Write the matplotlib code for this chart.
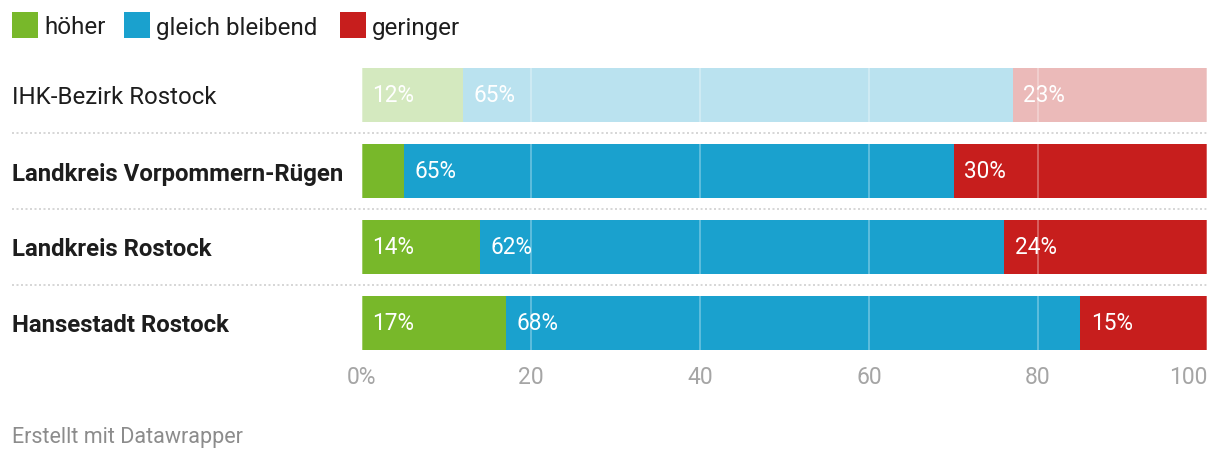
import matplotlib
matplotlib.use("Agg")
import matplotlib.pyplot as plt
from matplotlib.patches import Rectangle
from matplotlib.transforms import blended_transform_factory, ScaledTranslation
import numpy as np

plt.rcParams['font.family'] = ['Roboto', 'DejaVu Sans']

categories = ["IHK-Bezirk Rostock", "Landkreis Vorpommern-Rügen", "Landkreis Rostock", "Hansestadt Rostock"]
series_names = ["höher", "gleich bleibend", "geringer"]
hoeher = [12, 5, 14, 17]
gleich = [65, 65, 62, 68]
geringer = [23, 30, 24, 15]
xticks = [0, 20, 40, 60, 80, 100]
xtick_labels = ["0%", "20", "40", "60", "80", "100"]
footer = "Erstellt mit Datawrapper"

colors = ["#78b82a", "#1aa1ce", "#c71e1d"]
faded = ["#d4e9bf", "#bae2ef", "#ebbab9"]

W, H = 1220, 464
fig = plt.figure(figsize=(W/100, H/100), dpi=100)
ax = fig.add_axes([362/W, 1-362/H, 845/W, 304/H])

series = [hoeher, gleich, geringer]
y = np.arange(len(categories))
left = np.zeros(len(categories))
for si, vals in enumerate(series):
    vals = np.array(vals, dtype=float)
    for i in range(len(categories)):
        c = faded[si] if i == 0 else colors[si]
        ax.barh(y[i], vals[i], left=left[i], height=54/76, color=c, edgecolor='none', zorder=2)
        if vals[i] >= 8:
            ax.annotate(f"{int(vals[i])}%", (left[i], y[i]), xytext=(7.5, 0), textcoords='offset points',
                        ha='left', va='center', color='white', fontsize=16.3, zorder=4)
    left += vals

ax.set_xlim(0, 100)
ax.set_ylim(len(categories)-0.5, -0.5)
for g in xticks:
    ax.axvline(g, color='white', alpha=0.35, lw=1.2, zorder=3)

for s in ax.spines.values():
    s.set_visible(False)
ax.set_yticks([])
ax.set_xticks(xticks)
ax.set_xticklabels(xtick_labels)
ax.tick_params(axis='x', length=0, pad=3, labelsize=16.5, labelcolor='#a5a5a5')
lbls = ax.get_xticklabels()
lbls[-1].set_ha('right')

# Row labels
down = ScaledTranslation(0, -2/100, fig.dpi_scale_trans)
tr = blended_transform_factory(fig.transFigure, ax.transData)
for i, cat in enumerate(categories):
    fig.text(12/W, y[i], cat, transform=tr + down, ha='left', va='center', fontsize=17.3,
             color='#1d1d1d', fontweight='normal' if i == 0 else 'bold')

# separators
for i in range(len(categories)-1):
    ax.plot([12/W, 1207/W], [i+0.5, i+0.5], transform=tr, color='#cfcfcf', lw=1.2,
            ls=(0, (1.2, 1.5)), clip_on=False, zorder=1)

# legend
leg_x = [12, 124, 340]
for name, c, x0 in zip(series_names, colors, leg_x):
    fig.add_artist(Rectangle((x0/W, 1-39/H), 26/W, 26/H, transform=fig.transFigure,
                             facecolor=c, edgecolor='none'))
    fig.text((x0+32)/W, 1-28/H, name, ha='left', va='center', fontsize=17.4, color='#1d1d1d')

fig.text(12/W, 1-438/H, footer, ha='left', va='center', fontsize=15.5, color='#8c8c8c')

fig.savefig("out.png", dpi=100, facecolor='white')
